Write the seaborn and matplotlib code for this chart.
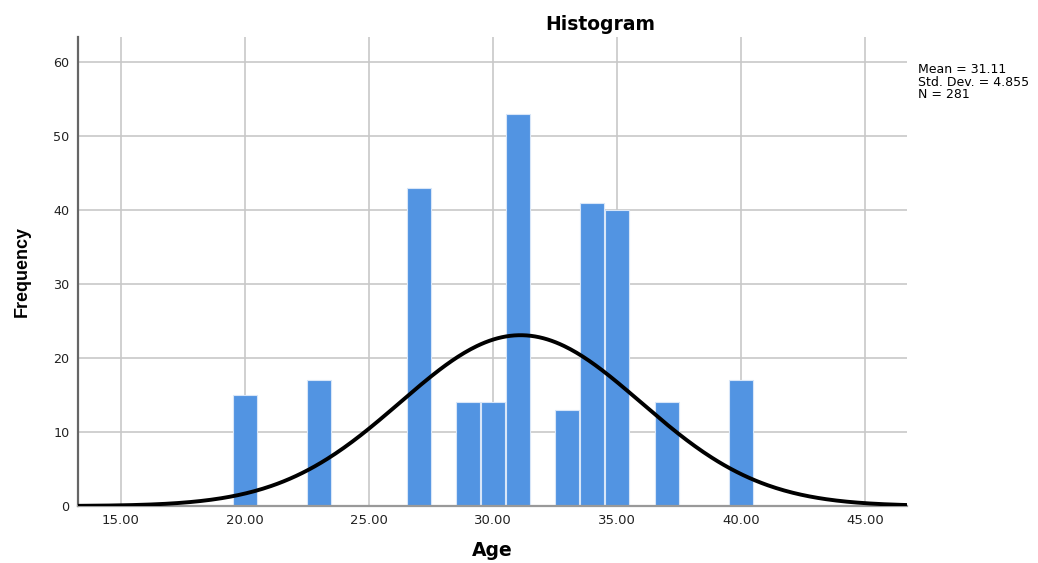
import numpy as np
import pandas as pd
import matplotlib
matplotlib.use("Agg")
import matplotlib.pyplot as plt
import seaborn as sns

ages = [20, 23, 27, 29, 30, 31, 33, 34, 35, 37, 40]
counts = [15, 17, 43, 14, 14, 53, 13, 41, 40, 14, 17]
x_ticks = [15, 20, 25, 30, 35, 40, 45]
y_ticks = [0, 10, 20, 30, 40, 50, 60]

sns.set_style("white")
plt.rcParams['font.family'] = ['DejaVu Sans']
plt.rcParams['text.color'] = 'black'
plt.rcParams['axes.labelcolor'] = 'black'
plt.rcParams['xtick.color'] = '#222222'
plt.rcParams['ytick.color'] = '#222222'

df = pd.DataFrame({"Age": ages, "Count": counts})
n = int(np.sum(counts))
mean = float(np.sum(np.array(ages) * np.array(counts)) / n)
sd = float(np.sqrt(np.sum(np.array(counts) * (np.array(ages) - mean) ** 2) / (n - 1)))

fig = plt.figure(figsize=(10.38, 5.63), dpi=100)
ax = fig.add_axes([0.0751, 0.1012, 0.7987, 0.8331])

sns.histplot(data=df, x="Age", weights="Count", discrete=True, shrink=0.97,
             color="#5294E2", edgecolor="#d8e6f8", linewidth=0.8, alpha=1, ax=ax, zorder=2)

xs = np.linspace(13.27, 46.69, 400)
ys = n * 1.0 * np.exp(-0.5 * ((xs - mean) / sd) ** 2) / (sd * np.sqrt(2 * np.pi))
sns.lineplot(x=xs, y=ys, color="black", linewidth=2.8, ax=ax, zorder=3)

ax.set_xlim(13.27, 46.69)
ax.set_ylim(0, 63.4)
ax.set_xticks(x_ticks)
ax.set_xticklabels([f"{t:.2f}" for t in x_ticks], fontsize=9.5)
ax.set_yticks(y_ticks)
ax.set_yticklabels([str(t) for t in y_ticks], fontsize=9.2)
ax.tick_params(axis='both', length=0, pad=6)
ax.grid(True, color="#c8c8c8", linewidth=1.2, zorder=0)
ax.set_axisbelow(True)

for s in ["top", "right"]:
    ax.spines[s].set_visible(False)
ax.spines["left"].set_color("#666666")
ax.spines["left"].set_linewidth(1.6)
ax.spines["bottom"].set_color("#999999")
ax.spines["bottom"].set_linewidth(1.6)

ax.set_xlabel("Age", fontsize=13.5, fontweight="bold", labelpad=10)
ax.set_ylabel("Frequency", fontsize=13, fontweight="bold", labelpad=16,
              family=['Liberation Sans', 'DejaVu Sans'])
ax.set_title("Histogram", fontsize=13.5, fontweight="bold", pad=5, x=0.63)

fig.text(0.884, 0.888, f"Mean = {mean:.2f}\nStd. Dev. = {sd:.3f}\nN = {n}",
         fontsize=9, va="top", ha="left", linespacing=0.95)

fig.savefig("out.png", dpi=100, facecolor="white")
